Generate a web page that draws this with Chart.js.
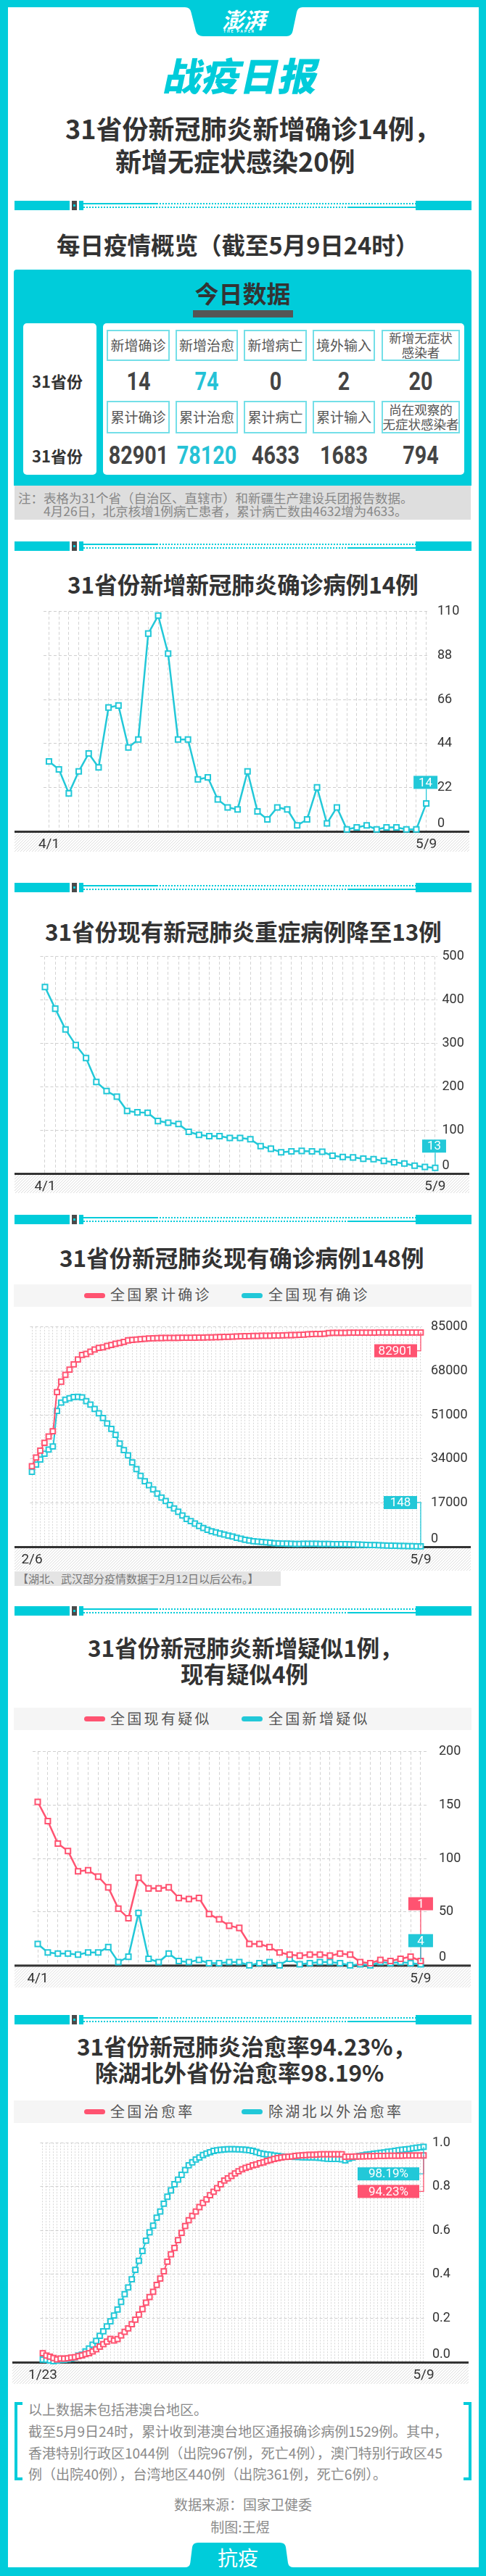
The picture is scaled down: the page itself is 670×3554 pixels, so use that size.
<!DOCTYPE html>
<html><head><meta charset="utf-8">
<script src="https://cdn.jsdelivr.net/npm/chart.js@4.4.1/dist/chart.umd.min.js"></script>
<style>
html,body{margin:0;padding:0;width:670px;height:3554px;overflow:hidden;background:#fff;}
body{position:relative;font-family:'Noto Sans CJK SC',sans-serif;}
</style></head>
<body>
<script>
// ===== DATA =====
const tableHead1 = ['新增确诊', '新增治愈', '新增病亡', '境外输入', '新增无症状|感染者'];
const tableVals1 = ['14', '74', '0', '2', '20'];
const tableHead2 = ['累计确诊', '累计治愈', '累计病亡', '累计输入', '尚在观察的|无症状感染者'];
const tableVals2 = ['82901', '78120', '4633', '1683', '794'];

// chart 1: daily new confirmed 4/1 - 5/9
const newConfirmed = [35,31,19,30,39,32,62,63,42,46,99,108,89,46,46,26,27,16,12,11,30,10,6,12,11,3,6,22,4,12,1,2,3,1,2,2,1,1,14];
const yTicks1 = [0,22,44,66,88,110];

// chart 2: existing severe 4/1 - 5/9
const severe = [430,380,332,296,266,211,190,177,144,141,140,121,117,114,96,89,86,86,82,82,79,63,57,49,51,52,51,50,41,38,37,34,33,29,26,23,18,15,13];
const yTicks2 = [0,100,200,300,400,500];

// chart 3: 2/6 - 5/9
const cumConfirmed = [31161,34546,37198,40171,42638,44653,59804,63851,66492,68500,70548,72436,74185,74576,75465,76288,76936,77150,77658,78064,78497,78824,79251,79824,
80026,80151,80270,80409,80552,80651,80695,80735,80754,80778,80793,80813,80824,80844,80860,80881,80894,80928,80967,81008,81054,81093,81171,81218,81285,81340,81394,81439,81470,81518,81554,
81589,81620,81639,81669,81708,81740,81802,81865,81907,81953,82052,82160,82249,82295,82341,82367,82692,82719,82735,82747,82758,82788,82798,82804,82816,82827,82830,82836,82858,82862,
82874,82875,82877,82880,82881,82883,82885,82886,82901];
const curConfirmed = [28985,31774,33738,35982,37626,38800,52526,55748,56873,57416,57934,58016,57805,56303,54965,53284,51606,49824,47672,45604,43258,39919,37414,35329,
32652,30004,27433,25352,23784,22177,20533,19016,17721,16145,14831,13526,12094,10734,9898,8976,8056,7263,6569,6013,5549,5120,4735,4287,3947,3460,3128,2691,2396,2161,2004,
1863,1727,1562,1376,1299,1242,1190,1160,1116,1089,1138,1156,1170,1137,1107,1081,1058,1027,1004,991,1000,959,915,838,801,723,648,647,619,537,
481,420,385,325,294,260,227,197,148];
const yTicks3 = [0,17000,34000,51000,68000,85000];

// chart 4: suspected 4/1 - 5/9
const curSuspect = [153,135,114,107,88,89,83,73,53,44,82,72,72,73,63,62,63,48,43,37,35,20,20,17,12,10,9,10,10,9,11,10,3,2,5,4,6,8,4];
const newSuspect = [20,12,11,11,10,12,12,17,3,8,49,6,3,11,4,3,5,2,2,3,3,0,2,3,0,6,1,2,3,3,2,0,1,0,3,2,3,2,1];
const yTicks4 = [0,50,100,150,200];

// chart 5: cure rate 1/23 - 5/9
const cureAll = [0.041,0.030,0.025,0.019,0.013,0.017,0.016,0.018,0.021,
0.023,0.028,0.031,0.037,0.041,0.049,0.059,0.071,0.082,0.094,0.106,0.099,0.105,0.122,0.138,0.154,0.173,0.194,0.217,0.242,0.271,0.297,0.321,0.352,0.381,0.414,0.458,0.492,0.521,
0.556,0.589,0.621,0.647,0.667,0.687,0.707,0.726,0.742,0.761,0.777,0.793,0.811,0.828,0.838,0.849,0.860,0.870,0.879,0.886,0.891,0.897,0.901,0.907,0.911,0.917,0.921,0.926,0.930,0.933,0.935,
0.936,0.938,0.940,0.942,0.943,0.944,0.945,0.945,0.946,0.948,0.948,0.948,0.948,0.948,0.948,0.948,0.936,0.937,0.937,0.938,0.938,0.938,0.939,0.939,0.939,0.940,0.940,0.940,0.941,0.941,
0.941,0.941,0.941,0.942,0.942,0.942,0.942,0.942,0.9423];
const cureOut = [0.012,0.011,0.008,0.005,0.007,0.010,0.011,0.014,0.017,
0.021,0.030,0.034,0.049,0.062,0.080,0.097,0.120,0.141,0.163,0.186,0.213,0.240,0.275,0.310,0.341,0.378,0.421,0.462,0.507,0.554,0.592,0.622,0.659,0.687,0.722,0.754,0.783,0.811,
0.832,0.854,0.876,0.897,0.911,0.924,0.933,0.944,0.951,0.957,0.963,0.966,0.968,0.969,0.971,0.971,0.971,0.970,0.969,0.968,0.966,0.963,0.958,0.953,0.949,0.947,0.945,0.942,0.940,0.938,0.937,
0.936,0.936,0.935,0.935,0.934,0.934,0.933,0.933,0.932,0.931,0.929,0.927,0.926,0.926,0.926,0.925,0.920,0.928,0.933,0.937,0.940,0.943,0.946,0.948,0.950,0.952,0.954,0.956,0.959,0.961,
0.963,0.966,0.968,0.970,0.972,0.975,0.977,0.979,0.9819];
const yTicks5 = [0,0.2,0.4,0.6,0.8,1.0];

function dateRange(m, d, n) {
  const out = []; const dt = new Date(2020, m - 1, d);
  for (let i = 0; i < n; i++) { out.push((dt.getMonth() + 1) + '/' + dt.getDate()); dt.setDate(dt.getDate() + 1); }
  return out;
}
const datesApr = dateRange(4, 1, 39);
const datesFeb = dateRange(2, 6, 94);
const datesJan = dateRange(1, 23, 108);

// ===== STYLE =====
const C = '#00CCDA', LC = '#22C8D8', RC = '#FF5371', DARK = '#333';
const page = document.body;
function box(x, y, w, h, style) {
  const d = document.createElement('div');
  d.style.cssText = `position:absolute;left:${x}px;top:${y}px;width:${w}px;height:${h}px;` + (style || '');
  page.appendChild(d); return d;
}
function txt(s, x, y, size, o = {}) {
  const d = document.createElement('div');
  const f = o.f ?? 0.54;
  let css = `position:absolute;white-space:nowrap;line-height:${size}px;font-size:${size}px;top:${y - size * f}px;color:${o.color || DARK};font-weight:${o.weight || 400};font-family:${o.family || "'Noto Sans CJK SC',sans-serif"};`;
  if (o.ls) css += `letter-spacing:${o.ls}px;`;
  if ((o.align || 'center') === 'center') css += `left:${x - 400}px;width:800px;text-align:center;`;
  else css += `left:${x}px;`;
  if (o.extra) css += o.extra;
  d.style.cssText = css; d.textContent = s; page.appendChild(d); return d;
}
function divider(y) {
  const dots = `background:repeating-linear-gradient(90deg,${C} 0 2px,transparent 2px 4px)`;
  box(20, y, 76, 13, `background:${C}`);
  box(99, y, 7, 13, 'background:#4a4a4a');
  box(101, y + 5, 3, 3, `background:${C}`);
  box(109, y, 6, 13, `background:${C}`);
  box(115, y + 3, 101, 2, `background:${C}`);
  box(216, y + 3, 357, 2, dots);
  box(115, y + 8, 364, 2, dots);
  box(479, y + 8, 94, 2, `background:${C}`);
  box(573, y, 77, 13, `background:${C}`);
}
function legend(y0, items) {
  box(19, y0, 631, 31, 'background:#f5f5f5');
  items.forEach(it => {
    box(it.mx, y0 + 12, 29, 7, `background:${it.c};border-radius:4px`);
    txt(it.t, it.tx, y0 + 15.5, 20, {align: 'left', color: '#555', ls: 3.3});
  });
}

// ===== FRAME =====
box(0, 0, 670, 10, `background:${C}`);
box(0, 0, 11, 3554, `background:${C}`);
box(660, 0, 10, 3554, `background:${C}`);
box(0, 3542, 670, 12, `background:${C}`);
const svg = document.createElementNS('http://www.w3.org/2000/svg', 'svg');
svg.setAttribute('width', 670); svg.setAttribute('height', 3554);
svg.style.cssText = 'position:absolute;left:0;top:0;';
svg.innerHTML = `<path fill="${C}" d="M255 10 Q262 10 263.5 17 L270 43 Q272 50 280 50 L395 50 Q402 50 403.5 43 L409 17 Q410.5 10 417 10 Z"/>
<path fill="${C}" d="M255 3542 Q261.5 3542 262.3 3536 L265 3514 Q266 3508 273 3508 L386 3508 Q393 3508 394 3514 L397 3536 Q398 3542 405 3542 Z"/>`;
page.appendChild(svg);
txt('澎湃', 336, 27, 30, {color: '#fff', weight: 700, extra: 'font-style:italic;'});
txt('THE PAPER', 330, 44, 5, {color: '#fff', weight: 700, ls: 2, family: 'Roboto'});
txt('抗疫', 328, 3529, 28, {color: '#fff'});

// ===== HEADER =====
txt('战疫日报', 334, 105, 53, {color: C, weight: 900, extra: 'transform:skewX(-12deg);'});
txt('31省份新冠肺炎新增确诊14例，', 90, 177, 36, {align: 'left', weight: 700});
txt('新增无症状感染20例', 159, 222.5, 36, {align: 'left', weight: 700});
divider(277);

// ===== TABLE =====
txt('每日疫情概览（截至5月9日24时）', 78, 339, 32.5, {align: 'left', weight: 700});
box(19, 372, 631, 298, `background:${C};border-radius:4px 4px 0 0`);
txt('今日数据', 334.5, 406, 33, {weight: 700});
box(266, 428, 138, 10, 'background:#555');
box(32, 446, 101, 209, 'background:#fff;border-radius:5px');
box(142, 446, 498, 209, 'background:#fff;border-radius:5px');
txt('31省份', 79, 526, 22, {weight: 700});
txt('31省份', 79, 629, 22, {weight: 700});
const cols = [[147, 234], [242, 328], [336, 423], [431, 517], [526, 634]];
function headRow(arr, y0, h) {
  arr.forEach((t, i) => {
    const [a, b] = cols[i];
    box(a, y0, b - a, h, 'border:2px solid #74dfe8;box-sizing:border-box');
    const cx = (a + b) / 2;
    if (t.includes('|')) {
      const [l1, l2] = t.split('|');
      txt(l1, cx, y0 + h / 2 - 10, 17.5, {color: '#555'});
      txt(l2, cx, y0 + h / 2 + 10, 17.5, {color: '#555'});
    } else txt(t, cx, y0 + h / 2, 19, {color: '#555'});
  });
}
function valRow(arr, y) {
  arr.forEach((t, i) => {
    const [a, b] = cols[i];
    txt(t, (a + b) / 2, y, 35, {weight: 700, f: 0.5, color: i === 1 ? '#26C2D6' : '#444', family: "Roboto,sans-serif", extra: 'transform:scaleX(0.82);'});
  });
}
headRow(tableHead1, 455, 43);
valRow(tableVals1, 526);
headRow(tableHead2, 553, 45);
valRow(tableVals2, 628.5);
box(20, 670, 629, 47, 'background:#dedede');
txt('注：表格为31个省（自治区、直辖市）和新疆生产建设兵团报告数据。', 25, 687, 17.5, {align: 'left', color: '#888'});
txt('4月26日，北京核增1例病亡患者，累计病亡数由4632增为4633。', 60, 705.5, 17.5, {align: 'left', color: '#888'});
divider(747);

// ===== CHART TITLES / LEGENDS =====
txt('31省份新增新冠肺炎确诊病例14例', 93, 807.5, 31.5, {align: 'left', weight: 700});
divider(1218);
txt('31省份现有新冠肺炎重症病例降至13例', 62, 1286.5, 31.5, {align: 'left', weight: 700});
divider(1676);
txt('31省份新冠肺炎现有确诊病例148例', 82, 1736.5, 31.5, {align: 'left', weight: 700});
legend(1771.5, [{mx: 116, tx: 152, c: RC, t: '全国累计确诊'}, {mx: 333, tx: 370, c: LC, t: '全国现有确诊'}]);
box(20, 2168, 367, 20, 'background:#e4e4e4');
txt('【湖北、武汉部分疫情数据于2月12日以后公布。】', 24, 2178, 15, {align: 'left', color: '#777'});
divider(2216);
txt('31省份新冠肺炎新增疑似1例，', 121, 2274.5, 31.5, {align: 'left', weight: 700});
txt('现有疑似4例', 249, 2310.5, 31.5, {align: 'left', weight: 700});
legend(2356, [{mx: 116, tx: 152, c: RC, t: '全国现有疑似'}, {mx: 333, tx: 370, c: LC, t: '全国新增疑似'}]);
divider(2780);
txt('31省份新冠肺炎治愈率94.23%，', 106, 2824, 31.5, {align: 'left', weight: 700});
txt('除湖北外省份治愈率98.19%', 131, 2860.3, 31.5, {align: 'left', weight: 700});
legend(2898, [{mx: 116, tx: 152, c: RC, t: '全国治愈率'}, {mx: 333, tx: 370, c: LC, t: '除湖北以外治愈率'}]);

// ===== FOOTER =====
box(20, 3314, 4, 108, `background:${C}`); box(20, 3314, 11, 4, `background:${C}`); box(20, 3418, 11, 4, `background:${C}`);
box(646, 3314, 4, 108, `background:${C}`); box(639, 3314, 11, 4, `background:${C}`); box(639, 3418, 11, 4, `background:${C}`);
const fo = {align: 'left', color: '#8a8a8a'};
txt('以上数据未包括港澳台地区。', 39, 3324, 19, fo);
txt('截至5月9日24时，累计收到港澳台地区通报确诊病例1529例。其中，', 39, 3354, 19, fo);
txt('香港特别行政区1044例（出院967例，死亡4例），澳门特别行政区45', 39, 3384, 19, fo);
txt('例（出院40例），台湾地区440例（出院361例，死亡6例）。', 39, 3413.5, 19, fo);
txt('数据来源：国家卫健委', 335, 3455, 19, {color: '#8a8a8a'});
txt('制图:王煜', 331, 3486, 19, {color: '#8a8a8a'});

// ===== CHARTS =====
function makeChart(p) {
  const top = p.plot.t - 16, h = (p.plot.b + 35) - top;
  const cv = document.createElement('canvas');
  cv.width = 670; cv.height = h;
  cv.style.cssText = `position:absolute;left:0;top:${top}px;width:670px;height:${h}px;`;
  page.appendChild(cv);
  const yW = 670 - p.plot.r - 8;
  const n = p.dates.length;
  const deco = {
    id: 'deco',
    beforeDraw(chart) {
      const {ctx, chartArea: a} = chart;
      ctx.save();
      ctx.beginPath(); ctx.rect(p.bx0, a.bottom, p.bx1 - p.bx0, p.band); ctx.clip();
      ctx.strokeStyle = '#dcdcdc'; ctx.lineWidth = 1;
      for (let x = p.bx0 - p.band; x < p.bx1 + p.band; x += 4) {
        ctx.beginPath(); ctx.moveTo(x, a.bottom + p.band); ctx.lineTo(x + p.band, a.bottom); ctx.stroke();
      }
      ctx.restore();
    },
    beforeDatasetsDraw(chart) {
      const {ctx, chartArea: a} = chart;
      ctx.save(); ctx.fillStyle = '#333';
      ctx.fillRect(p.bx0, a.bottom - 1, p.bx1 - p.bx0, 3);
      ctx.restore();
    },
    afterDraw(chart) {
      const ctx = chart.ctx;
      p.labels.forEach(L => {
        const meta = chart.getDatasetMeta(L.ds);
        const pt = meta.data[meta.data.length - 1];
        const px = pt.x, py = pt.y;
        ctx.save();
        ctx.strokeStyle = L.color; ctx.fillStyle = L.color; ctx.lineWidth = 1.3;
        let bx, by;
        if (L.type === 'above') {
          bx = px + (L.dx || 0) - L.w / 2; by = py - L.gap - L.h;
          ctx.beginPath(); ctx.moveTo(px, by + L.h); ctx.lineTo(px, py - 4); ctx.stroke();
        } else {
          bx = px - L.off - L.w; by = py + L.dy - L.h / 2;
          ctx.beginPath(); ctx.moveTo(px, py); ctx.lineTo(px, py + L.dy); ctx.lineTo(px - L.off, py + L.dy); ctx.stroke();
        }
        ctx.fillRect(bx, by, L.w, L.h);
        ctx.fillStyle = '#fff'; ctx.font = '17px Roboto'; ctx.textAlign = 'center'; ctx.textBaseline = 'middle';
        ctx.fillText(L.text, bx + L.w / 2, by + L.h / 2 + 1);
        ctx.restore();
      });
    }
  };
  new Chart(cv, {
    type: 'line',
    data: {
      datasets: p.series.map(s => ({
        data: s.values.map((v, i) => ({x: i, y: v})),
        borderColor: s.color, backgroundColor: s.color,
        borderWidth: p.lw, pointStyle: 'rect', pointRadius: p.pr, pointBorderWidth: p.pbw,
        pointBackgroundColor: '#fff', pointBorderColor: s.color,
        tension: p.smooth ? 0.4 : 0, cubicInterpolationMode: p.smooth ? 'monotone' : 'default',
        clip: false, fill: false
      }))
    },
    options: {
      responsive: false, animation: false, devicePixelRatio: 1,
      layout: {padding: {left: p.plot.l, right: 8, top: 16, bottom: 35 - p.band}},
      plugins: {legend: {display: false}, tooltip: {enabled: false}},
      scales: {
        x: {
          type: 'linear', min: p.xmin, max: p.xmax,
          afterBuildTicks: a => { a.ticks = p.dates.map((_, i) => ({value: i})); },
          afterFit: a => { a.height = p.band; },
          grid: {color: p.gx, lineWidth: 1, drawTicks: false},
          border: {display: false, dash: p.dashX},
          ticks: {autoSkip: false, maxRotation: 0, minRotation: 0, padding: 7, color: '#333',
            font: {size: 19, family: 'Roboto'},
            callback: v => (v === 0 || v === n - 1) ? p.dates[v] : ''}
        },
        y: {
          position: 'right', min: p.yTicks[0], max: p.yTicks[p.yTicks.length - 1],
          afterBuildTicks: a => { a.ticks = p.yTicks.map(v => ({value: v})); },
          afterFit: a => { a.width = yW; },
          grid: {color: '#cfcfcf', lineWidth: 1, drawTicks: false},
          border: {display: false, dash: [4, 3]},
          ticks: {padding: p.yPad, color: '#333', font: {size: 18, family: 'Roboto'},
            callback: v => { const s = p.yFmt(v); return v === 0 ? [s, ''] : s; }}
        }
      }
    },
    plugins: [deco]
  });
}

const intFmt = v => String(Math.round(v));

makeChart({
  plot: {l: 60, r: 592, t: 838, b: 1147}, xmin: -0.548, xmax: 38.32, band: 28, bx0: 20, bx1: 647,
  dates: datesApr, yTicks: yTicks1, yFmt: intFmt, yPad: 11, lw: 2.5, pr: 5, pbw: 2, smooth: false,
  gx: '#d2d2d2', dashX: [4, 3],
  series: [{values: newConfirmed, color: LC}],
  labels: [{ds: 0, type: 'above', text: '14', color: LC, w: 33, h: 18, gap: 20, dx: -1}]
});
makeChart({
  plot: {l: 55.5, r: 602.5, t: 1318, b: 1619}, xmin: -0.459, xmax: 38.18, band: 27, bx0: 20, bx1: 647,
  dates: datesApr, yTicks: yTicks2, yFmt: intFmt, yPad: 7, lw: 2.5, pr: 5, pbw: 2, smooth: false,
  gx: '#d2d2d2', dashX: [4, 3],
  series: [{values: severe, color: LC}],
  labels: [{ds: 0, type: 'above', text: '13', color: LC, w: 33, h: 18, gap: 21, dx: -1.5}]
});
makeChart({
  plot: {l: 41.5, r: 582, t: 1824, b: 2134}, xmin: -0.434, xmax: 93.35, band: 33, bx0: 20, bx1: 649,
  dates: datesFeb, yTicks: yTicks3, yFmt: intFmt, yPad: 12, lw: 2, pr: 4.8, pbw: 2, smooth: true,
  gx: '#d6d6d6', dashX: [2, 2],
  series: [{values: cumConfirmed, color: RC}, {values: curConfirmed, color: LC}],
  labels: [
    {ds: 0, type: 'side', text: '82901', color: RC, w: 59, h: 18, dy: 25.3, off: 5},
    {ds: 1, type: 'side', text: '148', color: LC, w: 46, h: 18, dy: -60.5, off: 5}
  ]
});
makeChart({
  plot: {l: 45, r: 588, t: 2405, b: 2715}, xmin: -0.504, xmax: 38.58, band: 31, bx0: 20, bx1: 649,
  dates: datesApr, yTicks: yTicks4, yFmt: intFmt, yPad: 17, lw: 2.5, pr: 5, pbw: 2, smooth: false,
  gx: '#d2d2d2', dashX: [4, 3],
  series: [{values: curSuspect, color: RC}, {values: newSuspect, color: LC}],
  labels: [
    {ds: 0, type: 'above', text: '1', color: RC, w: 34, h: 18, gap: 70},
    {ds: 1, type: 'above', text: '4', color: LC, w: 34, h: 18, gap: 23.5}
  ]
});
makeChart({
  plot: {l: 55.5, r: 585.5, t: 2951, b: 3259}, xmin: -0.713, xmax: 107.31, band: 30, bx0: 17, bx1: 646,
  dates: datesJan, yTicks: yTicks5, yFmt: v => v.toFixed(1), yPad: 10.5, lw: 2, pr: 4.8, pbw: 2, smooth: true,
  gx: '#d6d6d6', dashX: [2, 2],
  series: [{values: cureAll, color: RC}, {values: cureOut, color: LC}],
  labels: [
    {ds: 1, type: 'side', text: '98.19%', color: LC, w: 85, h: 18, dy: 37.4, off: 6},
    {ds: 0, type: 'side', text: '94.23%', color: RC, w: 85, h: 18, dy: 49.7, off: 6}
  ]
});
</script>
</body></html>
